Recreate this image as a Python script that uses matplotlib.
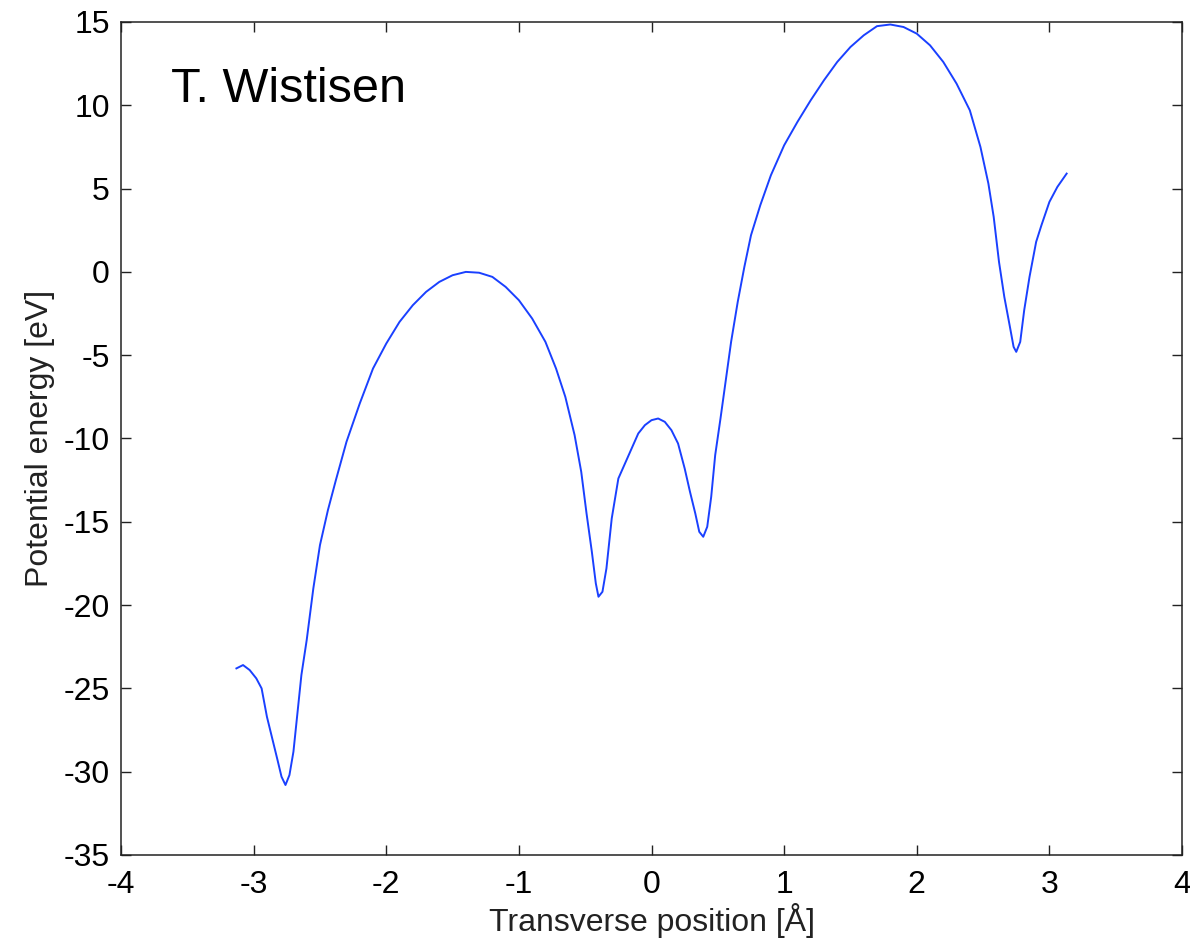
import matplotlib
matplotlib.use("Agg")
import matplotlib.pyplot as plt
from matplotlib import font_manager

# ---- data ----
position = [-3.13, -3.08, -3.03, -2.98, -2.94, -2.90, -2.86, -2.82, -2.79, -2.76,
            -2.73, -2.70, -2.67, -2.64, -2.60, -2.55, -2.50, -2.44, -2.38, -2.30,
            -2.20, -2.10, -2.00, -1.90, -1.80, -1.70, -1.60, -1.50, -1.40, -1.30,
            -1.20, -1.10, -1.00, -0.90, -0.80, -0.72, -0.65, -0.58, -0.53, -0.49,
            -0.45, -0.42, -0.40, -0.37, -0.34, -0.30, -0.25, -0.20, -0.15, -0.10,
            -0.05, 0.00, 0.05, 0.10, 0.15, 0.20, 0.25, 0.29, 0.33, 0.36,
            0.39, 0.42, 0.45, 0.48, 0.52, 0.56, 0.60, 0.65, 0.70, 0.75,
            0.82, 0.90, 1.00, 1.10, 1.20, 1.30, 1.40, 1.50, 1.60, 1.70,
            1.80, 1.90, 2.00, 2.10, 2.20, 2.30, 2.40, 2.48, 2.54, 2.58,
            2.62, 2.66, 2.70, 2.73, 2.75, 2.78, 2.81, 2.85, 2.90, 2.94,
            3.00, 3.06, 3.13]
energy = [-23.8, -23.6, -23.9, -24.4, -25.0, -26.7, -28.0, -29.3, -30.3, -30.8,
          -30.2, -28.8, -26.5, -24.2, -22.1, -19.0, -16.4, -14.3, -12.5, -10.2,
          -7.9, -5.8, -4.3, -3.0, -2.0, -1.2, -0.6, -0.2, 0.0, -0.05,
          -0.3, -0.9, -1.7, -2.8, -4.2, -5.8, -7.5, -9.8, -12.0, -14.5,
          -16.8, -18.7, -19.5, -19.2, -17.8, -14.8, -12.4, -11.5, -10.6, -9.7,
          -9.2, -8.9, -8.8, -9.0, -9.5, -10.3, -11.8, -13.2, -14.5, -15.6,
          -15.9, -15.3, -13.5, -11.0, -8.8, -6.5, -4.2, -1.8, 0.3, 2.2,
          4.0, 5.8, 7.6, 9.0, 10.3, 11.5, 12.6, 13.5, 14.2, 14.75,
          14.85, 14.7, 14.3, 13.6, 12.6, 11.3, 9.7, 7.5, 5.3, 3.3,
          0.6, -1.5, -3.2, -4.5, -4.8, -4.2, -2.3, -0.3, 1.8, 2.8,
          4.2, 5.1, 5.9]
x_ticks = [-4, -3, -2, -1, 0, 1, 2, 3, 4]
y_ticks = [-35, -30, -25, -20, -15, -10, -5, 0, 5, 10, 15]
x_label = "Transverse position [Å]"
y_label = "Potential energy [eV]"
annotation = "T. Wistisen"

available = {f.name for f in font_manager.fontManager.ttflist}
tick_family = "Liberation Sans Narrow" if "Liberation Sans Narrow" in available else "Liberation Sans"

fig = plt.figure(figsize=(11.9, 9.44), dpi=100)
ax = fig.add_axes([0.1017, 0.0943, 0.8916, 0.8824])

ax.plot(position, energy, color="#1a40ff", linewidth=1.4)

ax.set_xlim(-4, 4)
ax.set_ylim(-35, 15)
ax.set_xticks(x_ticks)
ax.set_yticks(y_ticks)
ax.set_xticklabels([str(t) for t in x_ticks], family=tick_family, fontsize=23)
ax.set_yticklabels([str(t) for t in y_ticks], family=tick_family, fontsize=23)
ax.tick_params(direction="in", length=7, width=1.0, top=True, right=True,
               color="#222222")
ax.tick_params(axis="y", pad=8)
ax.tick_params(axis="x", pad=11)
for s in ax.spines.values():
    s.set_linewidth(1.1)
    s.set_color("#222222")

ax.set_xlabel(x_label, family=tick_family, fontsize=23, labelpad=2, color="#222222")
ax.set_ylabel(y_label, family=tick_family, fontsize=23, labelpad=6, color="#222222")

ax.text(-3.62, 10.2, annotation, family="Liberation Sans", fontsize=35,
        ha="left", va="baseline", color="black")

fig.savefig("out.png", dpi=100)
